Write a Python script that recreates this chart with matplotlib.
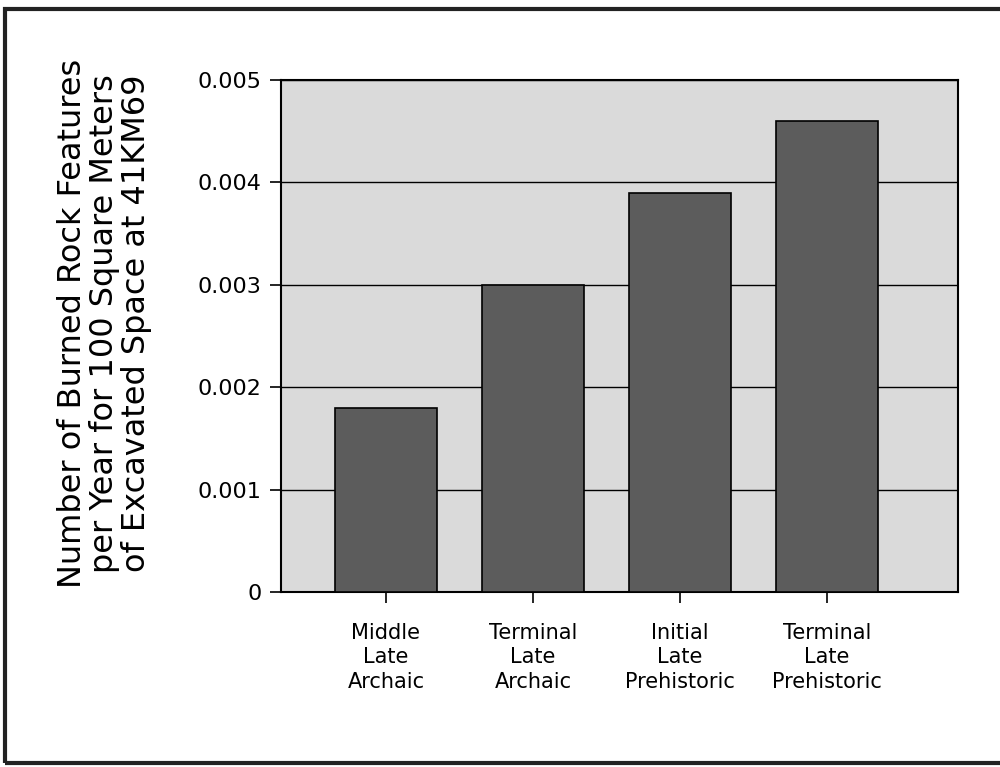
import matplotlib.pyplot as plt
from matplotlib.patches import Rectangle

categories = ["Middle\nLate\nArchaic", "Terminal\nLate\nArchaic",
              "Initial\nLate\nPrehistoric", "Terminal\nLate\nPrehistoric"]
values = [0.0018, 0.0030, 0.0039, 0.0046]
yticks = [0, 0.001, 0.002, 0.003, 0.004, 0.005]
ytick_labels = ["0", "0.001", "0.002", "0.003", "0.004", "0.005"]

plt.rcParams['font.family'] = ['DejaVu Sans']

fig = plt.figure(figsize=(10, 7.67), dpi=100)
ax = fig.add_axes([0.281, 1 - 592 / 767, 0.677, 512 / 767])

x = list(range(len(categories)))
ax.bar(x, values, width=0.69, color="#5c5c5c", edgecolor="black", linewidth=1.2, zorder=3)

ax.set_facecolor("#dadada")
ax.set_xlim(-0.714, 3.89)
ax.set_ylim(0, 0.005)
ax.set_yticks(yticks)
ax.set_yticklabels(ytick_labels, fontsize=16)
ax.set_xticks(x)
ax.set_xticklabels(categories, fontsize=15, linespacing=1.3)
ax.tick_params(axis="both", direction="out", length=8, width=1.2, colors="black", pad=6)
ax.tick_params(axis="x", pad=14)
ax.yaxis.grid(True, color="black", linewidth=1.0, zorder=1)
ax.set_axisbelow(True)
for s in ax.spines.values():
    s.set_linewidth(1.5)

ax.set_ylabel("Number of Burned Rock Features\nper Year for 100 Square Meters\nof Excavated Space at 41KM69",
              fontsize=23, linespacing=1.05)
ax.yaxis.set_label_coords(-0.19, 0.525)

# outer frame
fig.patches.append(Rectangle((0.005, 0.005), 1.2, 0.983, transform=fig.transFigure,
                             fill=False, edgecolor="#222222", linewidth=3))

fig.savefig("out.png", dpi=100)
